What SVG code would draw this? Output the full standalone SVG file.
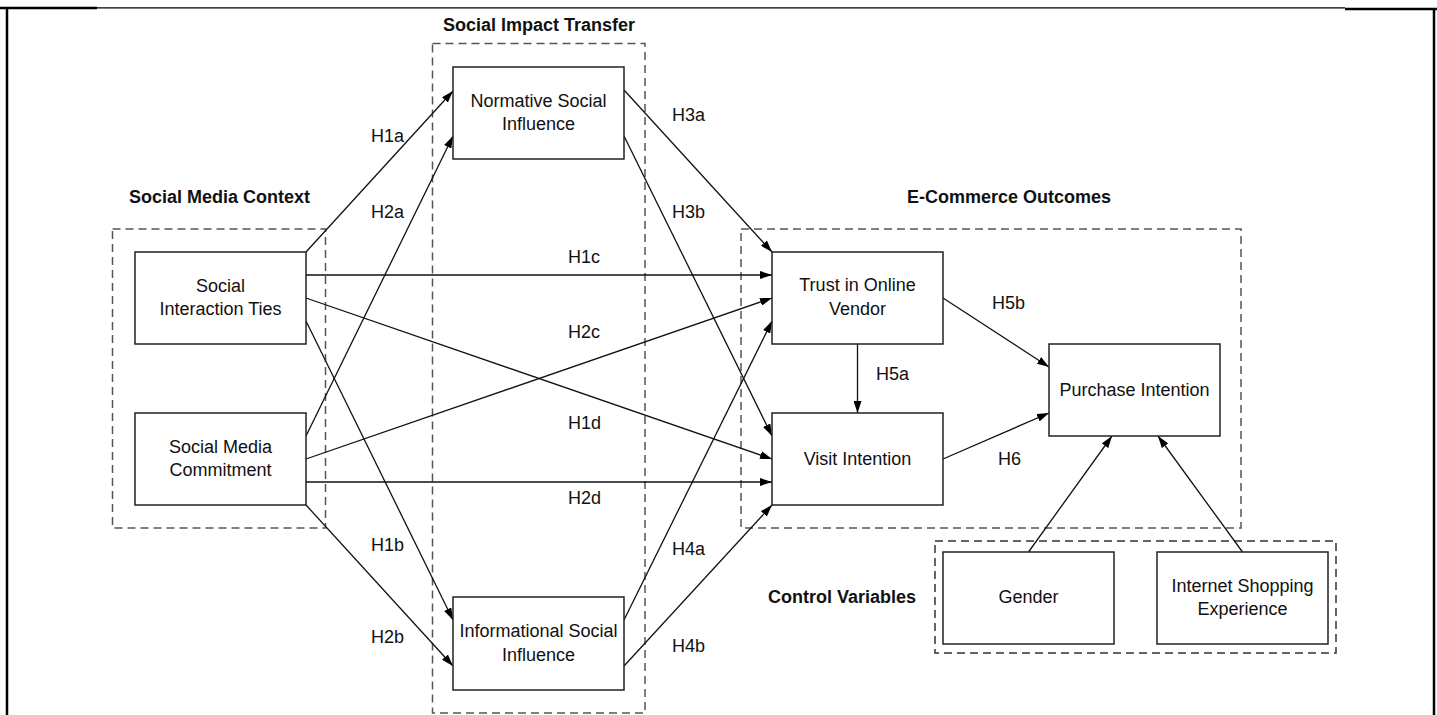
<svg xmlns="http://www.w3.org/2000/svg" width="1437" height="715" viewBox="0 0 1437 715">
<defs>
<style>
.frame{stroke:#000;fill:none}
.grp{fill:none;stroke:#555;stroke-width:1.5;stroke-dasharray:8 5}
.node rect{fill:#fff;stroke:#222;stroke-width:1.5}
text{font-family:"Liberation Sans",Arial,Helvetica,sans-serif;font-size:18px;fill:#111}
.node text,.lbl{text-anchor:middle}
.title{font-weight:bold}
.conn path{fill:none;stroke:#111;stroke-width:1.3;marker-end:url(#ah)}
</style>
<marker id="ah" viewBox="0 0 12 8" refX="12" refY="4" markerWidth="12" markerHeight="8" markerUnits="userSpaceOnUse" orient="auto">
<path d="M0,0 L12,4 L0,8 Z" fill="#000"/>
</marker>
</defs>
<rect width="1437" height="715" fill="#fff"/>
<g id="frame">
<line class="frame" x1="0" y1="8" x2="97" y2="8" stroke-width="2.5"/>
<line class="frame" x1="97" y1="7.8" x2="1345" y2="7.8" stroke-width="1.3"/>
<line class="frame" x1="1345" y1="9" x2="1437" y2="9" stroke-width="2.5"/>
<line class="frame" x1="7" y1="7" x2="7" y2="715" stroke-width="2.5"/>
<line class="frame" x1="1434" y1="8" x2="1434" y2="715" stroke-width="2.5"/>
</g>
<g id="groups">
<rect class="grp" x="112.5" y="229" width="213" height="299"/>
<rect class="grp" x="432.5" y="43.5" width="212.5" height="669.5"/>
<rect class="grp" x="741" y="229" width="500" height="299"/>
<rect class="grp" x="935" y="541" width="401" height="112" style="stroke:#333"/>
<text class="title" x="129" y="203">Social Media Context</text>
<text class="title" x="443" y="31">Social Impact Transfer</text>
<text class="title" x="907" y="203">E-Commerce Outcomes</text>
<text class="title" x="768" y="603">Control Variables</text>
</g>
<g id="connectors" class="conn">
<path d="M306,252 L453,91"/>
<path d="M306,436 L453,136"/>
<path d="M306,275 L772,275"/>
<path d="M306,298 L772,459"/>
<path d="M306,321 L453,620"/>
<path d="M306,459 L772,298"/>
<path d="M306,482 L772,482"/>
<path d="M306,505 L453,666"/>
<path d="M624,90 L772,252"/>
<path d="M624,136 L772,436"/>
<path d="M624,620 L772,321"/>
<path d="M624,666 L772,505"/>
<path d="M857.5,344 L857.5,413"/>
<path d="M943,298 L1049,367"/>
<path d="M943,459 L1049,413"/>
<path d="M1028.5,552 L1112,436"/>
<path d="M1242.5,552 L1158,436"/>
</g>
<g id="labels">
<text x="371" y="142">H1a</text>
<text x="371" y="218">H2a</text>
<text x="568" y="263">H1c</text>
<text x="568" y="338">H2c</text>
<text x="568" y="429">H1d</text>
<text x="568" y="504">H2d</text>
<text x="371" y="551">H1b</text>
<text x="371" y="643">H2b</text>
<text x="672" y="121">H3a</text>
<text x="672" y="218">H3b</text>
<text x="672" y="555">H4a</text>
<text x="672" y="652">H4b</text>
<text x="876" y="380">H5a</text>
<text x="992" y="309">H5b</text>
<text x="998" y="465">H6</text>
</g>
<g id="n-sit" class="node"><rect x="135" y="252" width="171" height="92"/><text x="220.5" y="291.5">Social</text><text x="220.5" y="315">Interaction Ties</text></g>
<g id="n-smc" class="node"><rect x="135" y="413" width="171" height="92"/><text x="220.5" y="452.5">Social Media</text><text x="220.5" y="476">Commitment</text></g>
<g id="n-nsi" class="node"><rect x="453" y="67" width="171" height="92"/><text x="538.5" y="106.5">Normative Social</text><text x="538.5" y="130">Influence</text></g>
<g id="n-isi" class="node"><rect x="453" y="597" width="171" height="93"/><text x="538.5" y="637">Informational Social</text><text x="538.5" y="660.5">Influence</text></g>
<g id="n-trust" class="node"><rect x="772" y="252" width="171" height="92"/><text x="857.5" y="291">Trust in Online</text><text x="857.5" y="314.5">Vendor</text></g>
<g id="n-visit" class="node"><rect x="772" y="413" width="171" height="92"/><text x="857.5" y="464.5">Visit Intention</text></g>
<g id="n-purchase" class="node"><rect x="1049" y="344" width="171" height="92"/><text x="1134.5" y="395.5">Purchase Intention</text></g>
<g id="n-gender" class="node"><rect x="943" y="552" width="171" height="92"/><text x="1028.5" y="603">Gender</text></g>
<g id="n-ise" class="node"><rect x="1157" y="552" width="171" height="92"/><text x="1242.5" y="591.5">Internet Shopping</text><text x="1242.5" y="615">Experience</text></g>
</svg>
